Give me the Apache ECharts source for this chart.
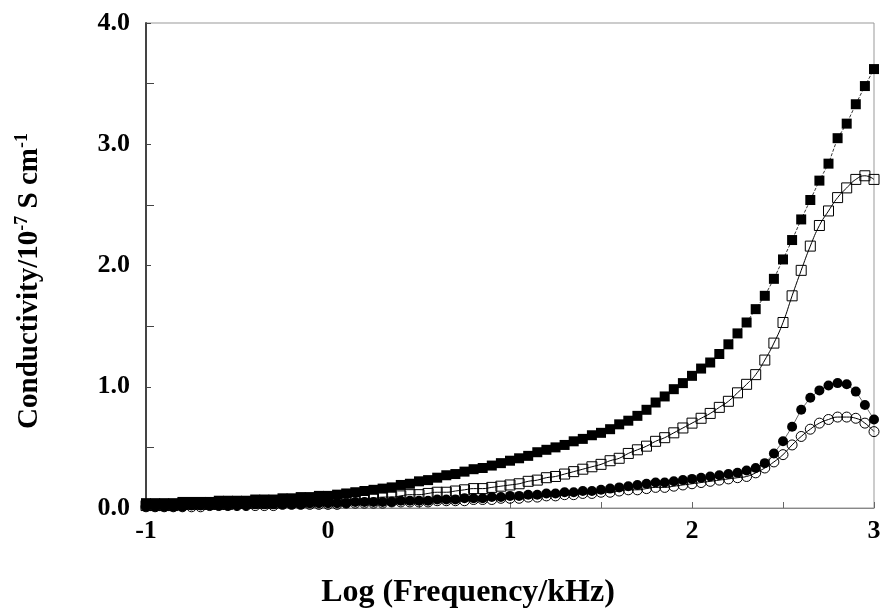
<!DOCTYPE html>
<html>
<head>
<meta charset="utf-8">
<script src="https://cdn.jsdelivr.net/npm/echarts@6/dist/echarts.min.js"></script>
<style>html,body{margin:0;padding:0;background:#fff}#c{width:884px;height:615px}</style>
</head>
<body>
<div id="c"></div>
<script>
var logFreq = [-1.00,-0.95,-0.90,-0.85,-0.80,-0.75,-0.70,-0.65,-0.60,-0.55,-0.50,-0.45,-0.40,-0.35,-0.30,-0.25,-0.20,-0.15,-0.10,-0.05,
0.00,0.05,0.10,0.15,0.20,0.25,0.30,0.35,0.40,0.45,0.50,0.55,0.60,0.65,0.70,0.75,0.80,0.85,0.90,0.95,
1.00,1.05,1.10,1.15,1.20,1.25,1.30,1.35,1.40,1.45,1.50,1.55,1.60,1.65,1.70,1.75,1.80,1.85,1.90,1.95,
2.00,2.05,2.10,2.15,2.20,2.25,2.30,2.35,2.40,2.45,2.50,2.55,2.60,2.65,2.70,2.75,2.80,2.85,2.90,2.95,3.00];

var filledSquares = [0.04,0.04,0.04,0.04,0.05,0.05,0.05,0.05,0.06,0.06,0.06,0.06,0.07,0.07,0.07,0.08,0.08,0.09,0.09,0.10,
0.10,0.11,0.12,0.13,0.14,0.15,0.16,0.17,0.19,0.20,0.22,0.23,0.25,0.27,0.28,0.30,0.32,0.33,0.35,0.37,
0.39,0.41,0.43,0.46,0.48,0.50,0.52,0.55,0.57,0.60,0.62,0.65,0.69,0.72,0.76,0.81,0.87,0.92,0.98,1.03,
1.09,1.15,1.20,1.27,1.35,1.44,1.53,1.64,1.75,1.89,2.05,2.21,2.38,2.54,2.70,2.84,3.05,3.17,3.33,3.48,3.62];

var openSquares = [0.02,0.02,0.02,0.02,0.03,0.03,0.03,0.03,0.03,0.03,0.04,0.04,0.04,0.04,0.04,0.05,0.05,0.05,0.05,0.06,
0.06,0.06,0.07,0.07,0.08,0.08,0.09,0.09,0.10,0.11,0.11,0.12,0.13,0.13,0.14,0.15,0.16,0.16,0.17,0.18,
0.19,0.20,0.22,0.23,0.25,0.26,0.28,0.30,0.32,0.34,0.36,0.39,0.41,0.45,0.48,0.51,0.55,0.58,0.62,0.66,
0.70,0.74,0.78,0.83,0.88,0.95,1.02,1.10,1.22,1.36,1.53,1.75,1.96,2.16,2.33,2.45,2.56,2.64,2.71,2.74,2.71];

var filledCircles = [0.01,0.01,0.01,0.01,0.01,0.02,0.02,0.02,0.02,0.02,0.02,0.02,0.03,0.03,0.03,0.03,0.03,0.03,0.04,0.04,
0.04,0.04,0.04,0.05,0.05,0.05,0.05,0.05,0.06,0.06,0.06,0.06,0.07,0.07,0.07,0.08,0.08,0.08,0.09,0.09,
0.10,0.10,0.11,0.11,0.12,0.12,0.13,0.13,0.14,0.14,0.15,0.16,0.17,0.18,0.19,0.20,0.21,0.21,0.22,0.23,
0.24,0.25,0.26,0.27,0.28,0.29,0.31,0.33,0.37,0.45,0.55,0.67,0.81,0.91,0.97,1.01,1.03,1.02,0.96,0.85,0.73];

var openCircles = [0.01,0.01,0.01,0.01,0.01,0.01,0.01,0.02,0.02,0.02,0.02,0.02,0.02,0.02,0.02,0.03,0.03,0.03,0.03,0.03,
0.03,0.03,0.04,0.04,0.04,0.04,0.04,0.05,0.05,0.05,0.05,0.05,0.06,0.06,0.06,0.06,0.07,0.07,0.07,0.08,
0.08,0.08,0.09,0.09,0.10,0.10,0.11,0.11,0.12,0.12,0.13,0.13,0.14,0.15,0.15,0.16,0.17,0.17,0.18,0.19,
0.20,0.21,0.22,0.23,0.24,0.25,0.26,0.29,0.33,0.38,0.44,0.52,0.59,0.65,0.70,0.73,0.75,0.75,0.74,0.70,0.63];

var xTickLabels = {'-1':'-1','0':'0','1':'1','2':'2','3':'3'};

function pairs(ys){ return logFreq.map(function(x,i){ return [x, ys[i]]; }); }

var FONT = '"Liberation Serif", "Times New Roman", serif';
var chart = echarts.init(document.getElementById('c'), null, {renderer:'canvas'});
chart.setOption({
  animation: false,
  backgroundColor: '#fff',
  grid: {left:146, right:10, top:23, bottom:107, show:true, borderColor:'#999', borderWidth:1, containLabel:false},
  xAxis: {
    type:'value', min:-1, max:3, interval:1,
    axisLine:{show:true, onZero:false, lineStyle:{color:'#888', width:1}},
    axisTick:{show:true, inside:true, length:6, lineStyle:{color:'#666'}},
    minorTick:{show:true, splitNumber:2, length:6, lineStyle:{color:'#666'}},
    splitLine:{show:false},
    axisLabel:{color:'#000', fontFamily:FONT, fontWeight:'bold', fontSize:26, margin:10,
      formatter:function(v){ var k=String(Math.round(v)); return xTickLabels[k]!==undefined?xTickLabels[k]:''; }}
  },
  yAxis: {
    type:'value', min:0, max:4, interval:1,
    axisLine:{show:true, onZero:false, lineStyle:{color:'#444', width:2}},
    axisTick:{show:true, inside:true, length:5, lineStyle:{color:'#444'}},
    minorTick:{show:true, splitNumber:2, length:8, lineStyle:{color:'#444'}},
    splitLine:{show:false},
    axisLabel:{color:'#000', fontFamily:FONT, fontWeight:'bold', fontSize:26, margin:16,
      formatter:function(v){ return v.toFixed(1); }}
  },
  graphic: [
    {type:'text', x:30, y:281, rotation:Math.PI/2,
      style:{text:'{a|Conductivity/10}{s|-7}{a| S cm}{s|-1}', align:'center', verticalAlign:'middle',
        rich:{a:{fontFamily:FONT, fontWeight:'bold', fontSize:29, fill:'#000'},
              s:{fontFamily:FONT, fontWeight:'bold', fontSize:18, fill:'#000', verticalAlign:'top', padding:[0,0,16,0]}}}},
    {type:'text', x:468, y:593,
      style:{text:'Log (Frequency/kHz)', align:'center', verticalAlign:'middle',
        fontFamily:FONT, fontWeight:'bold', fontSize:32, fill:'#000'}}
  ],
  series: [
    {type:'line', data:pairs(filledSquares), symbol:'rect', symbolSize:10, showSymbol:true,
      itemStyle:{color:'#000'}, lineStyle:{color:'#000', width:0.8, type:'dashed'}, z:2},
    {type:'line', data:pairs(openSquares), symbol:'rect', symbolSize:10, smooth:true,
      itemStyle:{color:'rgba(255,255,255,0)', borderColor:'#000', borderWidth:1}, lineStyle:{color:'#000', width:1}, z:3},
    {type:'line', data:pairs(filledCircles), symbol:'circle', symbolSize:10,
      itemStyle:{color:'#000'}, lineStyle:{color:'#000', width:0.6}, z:2},
    {type:'line', data:pairs(openCircles), symbol:'circle', symbolSize:10, smooth:true,
      itemStyle:{color:'rgba(255,255,255,0)', borderColor:'#000', borderWidth:1}, lineStyle:{color:'#000', width:1}, z:3}
  ]
});
</script>
</body>
</html>
